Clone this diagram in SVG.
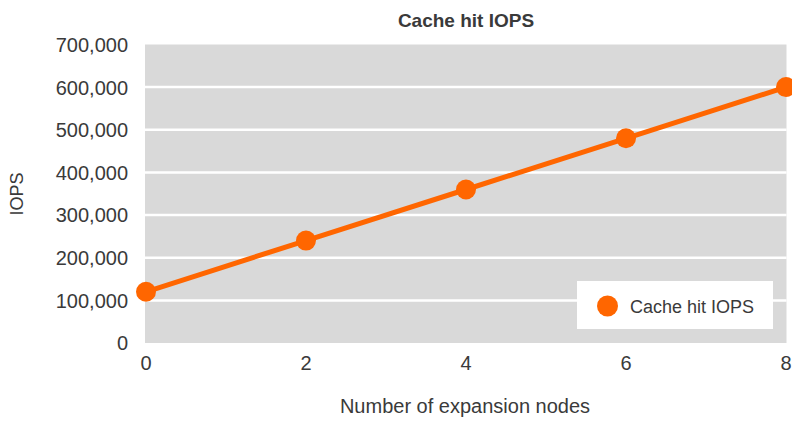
<svg xmlns="http://www.w3.org/2000/svg" width="792" height="425" viewBox="0 0 792 425">
<style>
text{font-family:"Liberation Sans",Arial,sans-serif;fill:#3a3a3a}
.tick{font-size:20px}
.yt{text-anchor:end}
.xt{text-anchor:middle}
.grid{stroke:#ffffff;stroke-width:2.5}
.mk{fill:#ff6600}
</style>
<rect width="792" height="425" fill="#ffffff"/>
<g id="plot-area">
<rect x="145" y="44.5" width="641.5" height="298.5" fill="#d9d9d9"/>
<line class="grid" x1="145" y1="87.1" x2="786.5" y2="87.1"/>
<line class="grid" x1="145" y1="129.8" x2="786.5" y2="129.8"/>
<line class="grid" x1="145" y1="172.4" x2="786.5" y2="172.4"/>
<line class="grid" x1="145" y1="215.1" x2="786.5" y2="215.1"/>
<line class="grid" x1="145" y1="257.7" x2="786.5" y2="257.7"/>
<line class="grid" x1="145" y1="300.4" x2="786.5" y2="300.4"/>
</g>
<g id="title"><text x="466" y="27" font-size="19" font-weight="bold" text-anchor="middle" fill="#1a1a1a">Cache hit IOPS</text></g>
<g id="y-axis">
<text class="tick yt" x="128" y="52">700,000</text>
<text class="tick yt" x="128" y="95">600,000</text>
<text class="tick yt" x="128" y="137">500,000</text>
<text class="tick yt" x="128" y="180">400,000</text>
<text class="tick yt" x="128" y="222">300,000</text>
<text class="tick yt" x="128" y="265">200,000</text>
<text class="tick yt" x="128" y="308">100,000</text>
<text class="tick yt" x="128" y="350">0</text>
<text x="23" y="194" font-size="18" text-anchor="middle" transform="rotate(-90 23 194)">IOPS</text>
</g>
<g id="x-axis">
<text class="tick xt" x="146" y="370">0</text>
<text class="tick xt" x="306" y="370">2</text>
<text class="tick xt" x="466" y="370">4</text>
<text class="tick xt" x="626" y="370">6</text>
<text class="tick xt" x="786" y="370">8</text>
<text x="465" y="413" font-size="20" text-anchor="middle">Number of expansion nodes</text>
</g>
<g id="connectors">
<polyline points="146,291.8 306,240.6 466,189.5 626,138.3 786,87.1" fill="none" stroke="#ff6600" stroke-width="5" stroke-linejoin="round"/>
</g>
<g id="p0"><circle class="mk" cx="146" cy="291.8" r="10"/></g>
<g id="p2"><circle class="mk" cx="306" cy="240.6" r="10"/></g>
<g id="p4"><circle class="mk" cx="466" cy="189.5" r="10"/></g>
<g id="p6"><circle class="mk" cx="626" cy="138.3" r="10"/></g>
<g id="p8"><circle class="mk" cx="786" cy="87.1" r="10"/></g>
<g id="legend">
<rect x="577" y="281" width="196" height="48" fill="#ffffff"/>
<circle class="mk" cx="607.5" cy="306" r="10.5"/>
<text x="630" y="313" font-size="18">Cache hit IOPS</text>
</g>
</svg>
